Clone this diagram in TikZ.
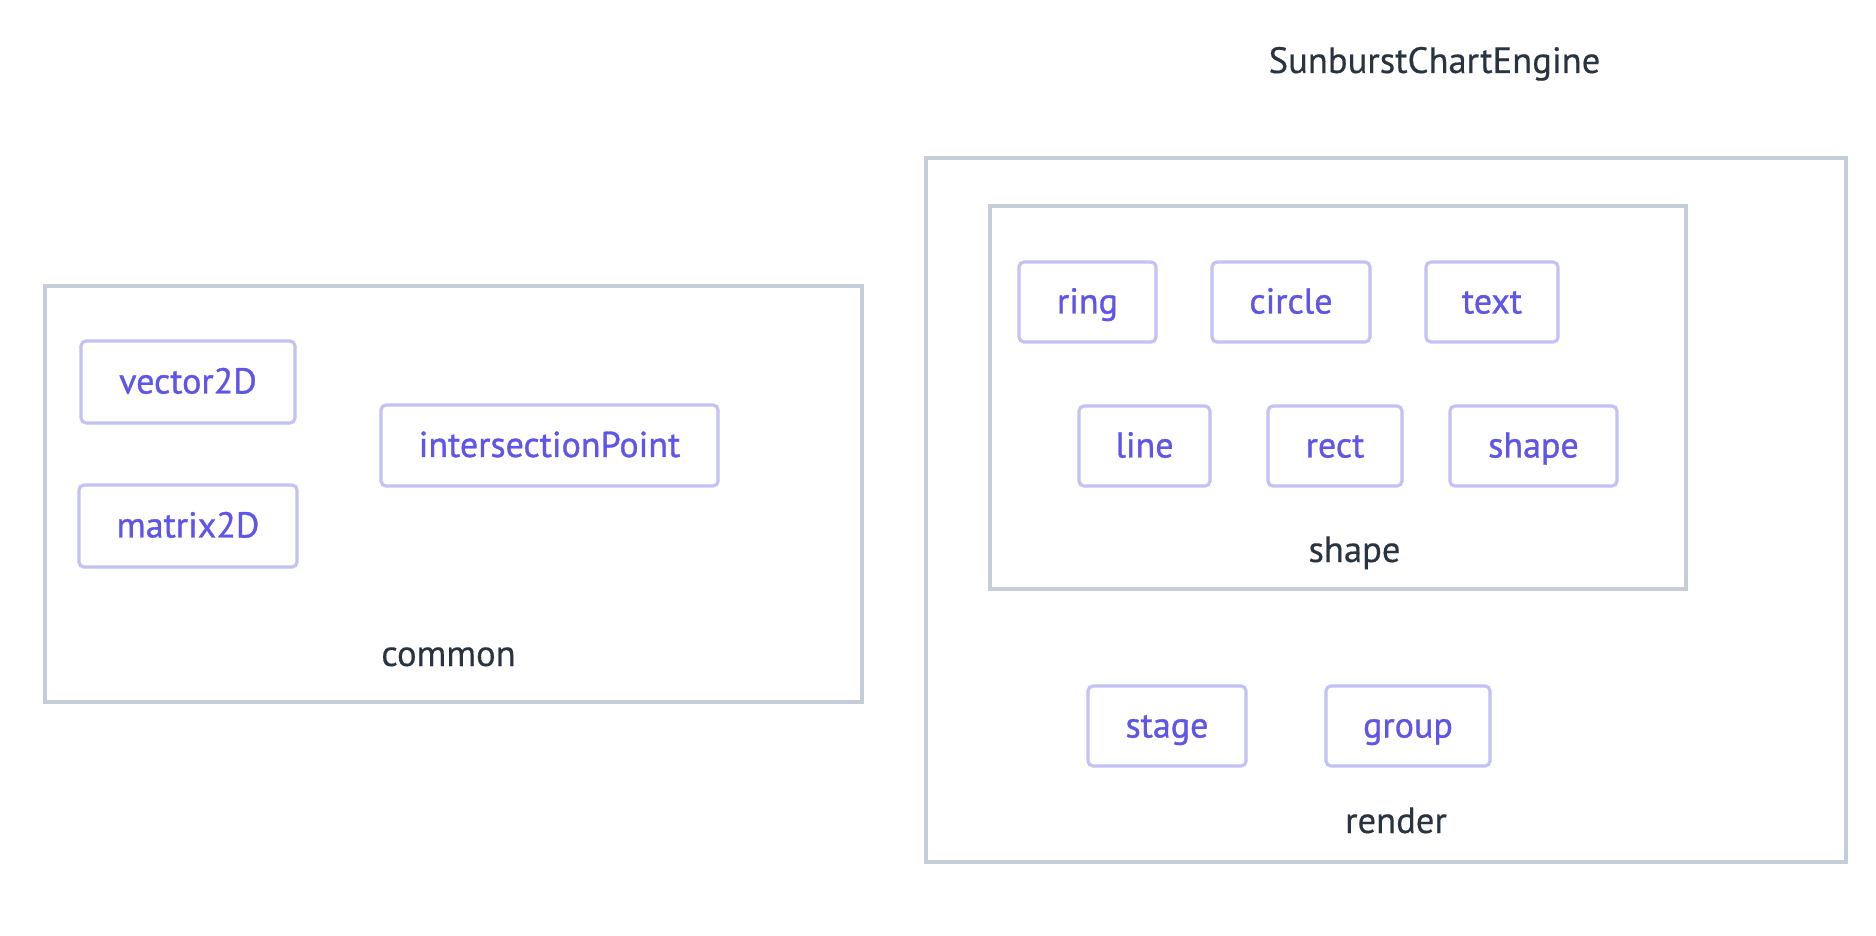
\documentclass[tikz,border=0pt]{standalone}
\usepackage{fontspec}
\setmainfont{PT Sans}
\newfontfamily\itemfont[FakeBold=0.9]{PT Sans}
\newfontfamily\labfont[FakeBold=0.35]{PT Sans}
\definecolor{grpline}{HTML}{C5CDD6}
\definecolor{boxline}{HTML}{C4C1F5}
\definecolor{boxtext}{HTML}{5F55E8}
\definecolor{labtext}{HTML}{2A3440}
\tikzset{
  itembox/.style={draw=boxline, line width=1.6pt, rounded corners=2.5pt, fill=white,
    inner sep=0pt, minimum height=40.5pt, text height=11.5pt, text depth=0pt,
    text=boxtext, font=\itemfont\fontsize{18}{21}\selectfont},
  groupbox/.style={draw=grpline, line width=1.6pt, inner sep=0pt},
  grouplabel/.style={anchor=base, inner sep=0pt, text=labtext, font=\labfont\fontsize{18.3}{21}\selectfont},
}
\begin{document}
\begin{tikzpicture}[x=0.5pt,y=-0.5pt]
\useasboundingbox[fill=white] (0,0) rectangle (1876,936);
% group boxes
\node[groupbox, minimum width=408.5pt, minimum height=208pt] (common) at (453.5,494) {};
\node[groupbox, minimum width=460pt, minimum height=352pt] (render) at (1386,510) {};
\node[groupbox, minimum width=348pt, minimum height=191.5pt] (shapegrp) at (1338,397.5) {};
% labels
\node[grouplabel] (title) at (1434.5,73) {SunburstChartEngine};
\node[grouplabel] (commonlab) at (448.5,666) {common};
\node[grouplabel] (shapelab) at (1354.5,562) {shape};
\node[grouplabel] (renderlab) at (1396,833) {render};
% common items
\node[itembox, minimum width=107pt, minimum height=41pt] (vector2D) at (188,382) {vector2D};
\node[itembox, minimum width=109pt, minimum height=41pt] (matrix2D) at (188,526) {matrix2D};
\node[itembox, minimum width=168.5pt] (intersectionPoint) at (549.5,445.5) {intersectionPoint};
% shape items
\node[itembox, minimum width=68.5pt, minimum height=40pt] (ring) at (1087.5,302) {ring};
\node[itembox, minimum width=79pt, minimum height=40pt] (circle) at (1291,302) {circle};
\node[itembox, minimum width=66pt, minimum height=40pt] (text) at (1492,302) {text};
\node[itembox, minimum width=65.5pt, minimum height=40pt] (line) at (1144.5,446) {line};
\node[itembox, minimum width=67pt, minimum height=40pt] (rect) at (1335,446) {rect};
\node[itembox, minimum width=83.5pt, minimum height=40pt] (shapeitem) at (1533.5,446) {shape};
% render items
\node[itembox, minimum width=79pt, minimum height=40pt] (stage) at (1167,726) {stage};
\node[itembox, minimum width=82pt, minimum height=40pt] (group) at (1408,726) {group};
\end{tikzpicture}
\end{document}
